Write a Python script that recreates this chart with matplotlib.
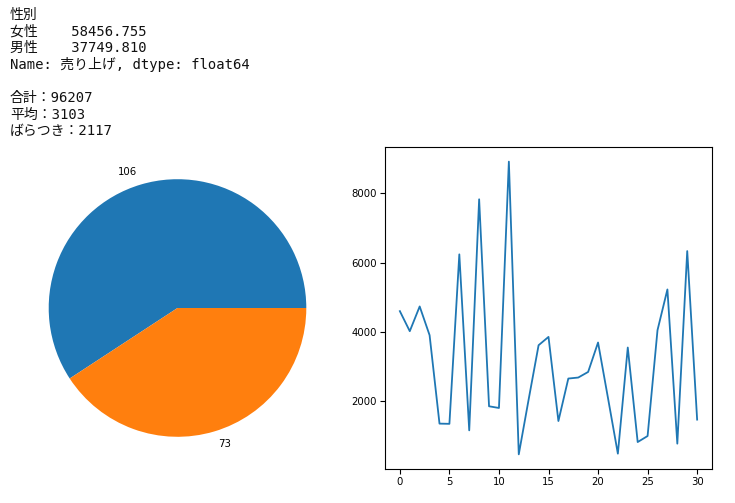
import matplotlib
matplotlib.use("Agg")
import matplotlib.pyplot as plt

# group summary printed above the charts
genders = ["女性", "男性"]
gender_sales = [58456.755, 37749.810]
gender_counts = [106, 73]
total_sales = 96207
mean_sales = 3103
std_sales = 2117

# daily sales (index 0..30)
days = list(range(31))
sales = [4595, 4016, 4731, 3900, 1346, 1340, 6235, 1152, 7826, 1847,
         1798, 8914, 458, 2050, 3611, 3851, 1421, 2648, 2677, 2839,
         3689, 2090, 478, 3545, 814, 988, 4045, 5222, 768, 6330, 1462]

W, H = 735, 503
fig = plt.figure(figsize=(W / 100, H / 100), dpi=100)

# printed output text (like a notebook cell)
mono = ["DejaVu Sans Mono", "Noto Sans CJK JP"]
lines = ["性別"]
for g, s in zip(genders, gender_sales):
    lines.append(f"{g}    {s:.3f}")
lines.append("Name: 売り上げ, dtype: float64")
lines.append("")
lines.append(f"合計：{total_sales}")
lines.append(f"平均：{mean_sales}")
lines.append(f"ばらつき：{std_sales}")

y0 = 18.5
step = 16.7
for i, t in enumerate(lines):
    if t:
        fig.text(10 / W, 1 - (y0 + i * step) / H, t, family=mono,
                 fontsize=10, va="baseline", ha="left", color="#111111")

# pie chart
ax1 = fig.add_axes([16.5 / W, 34 / H, 322 / W, 322 / H])
ax1.pie(gender_counts, labels=[str(c) for c in gender_counts],
        textprops={"fontsize": 7.3})

# line chart
ax2 = fig.add_axes([385 / W, 34 / H, 327 / W, 322 / H])
ax2.plot(days, sales, lw=1.3)
ax2.set_xticks([0, 5, 10, 15, 20, 25, 30])
ax2.set_yticks([2000, 4000, 6000, 8000])
ax2.tick_params(labelsize=7.3, pad=2.2)

fig.savefig("out.png", dpi=100)
